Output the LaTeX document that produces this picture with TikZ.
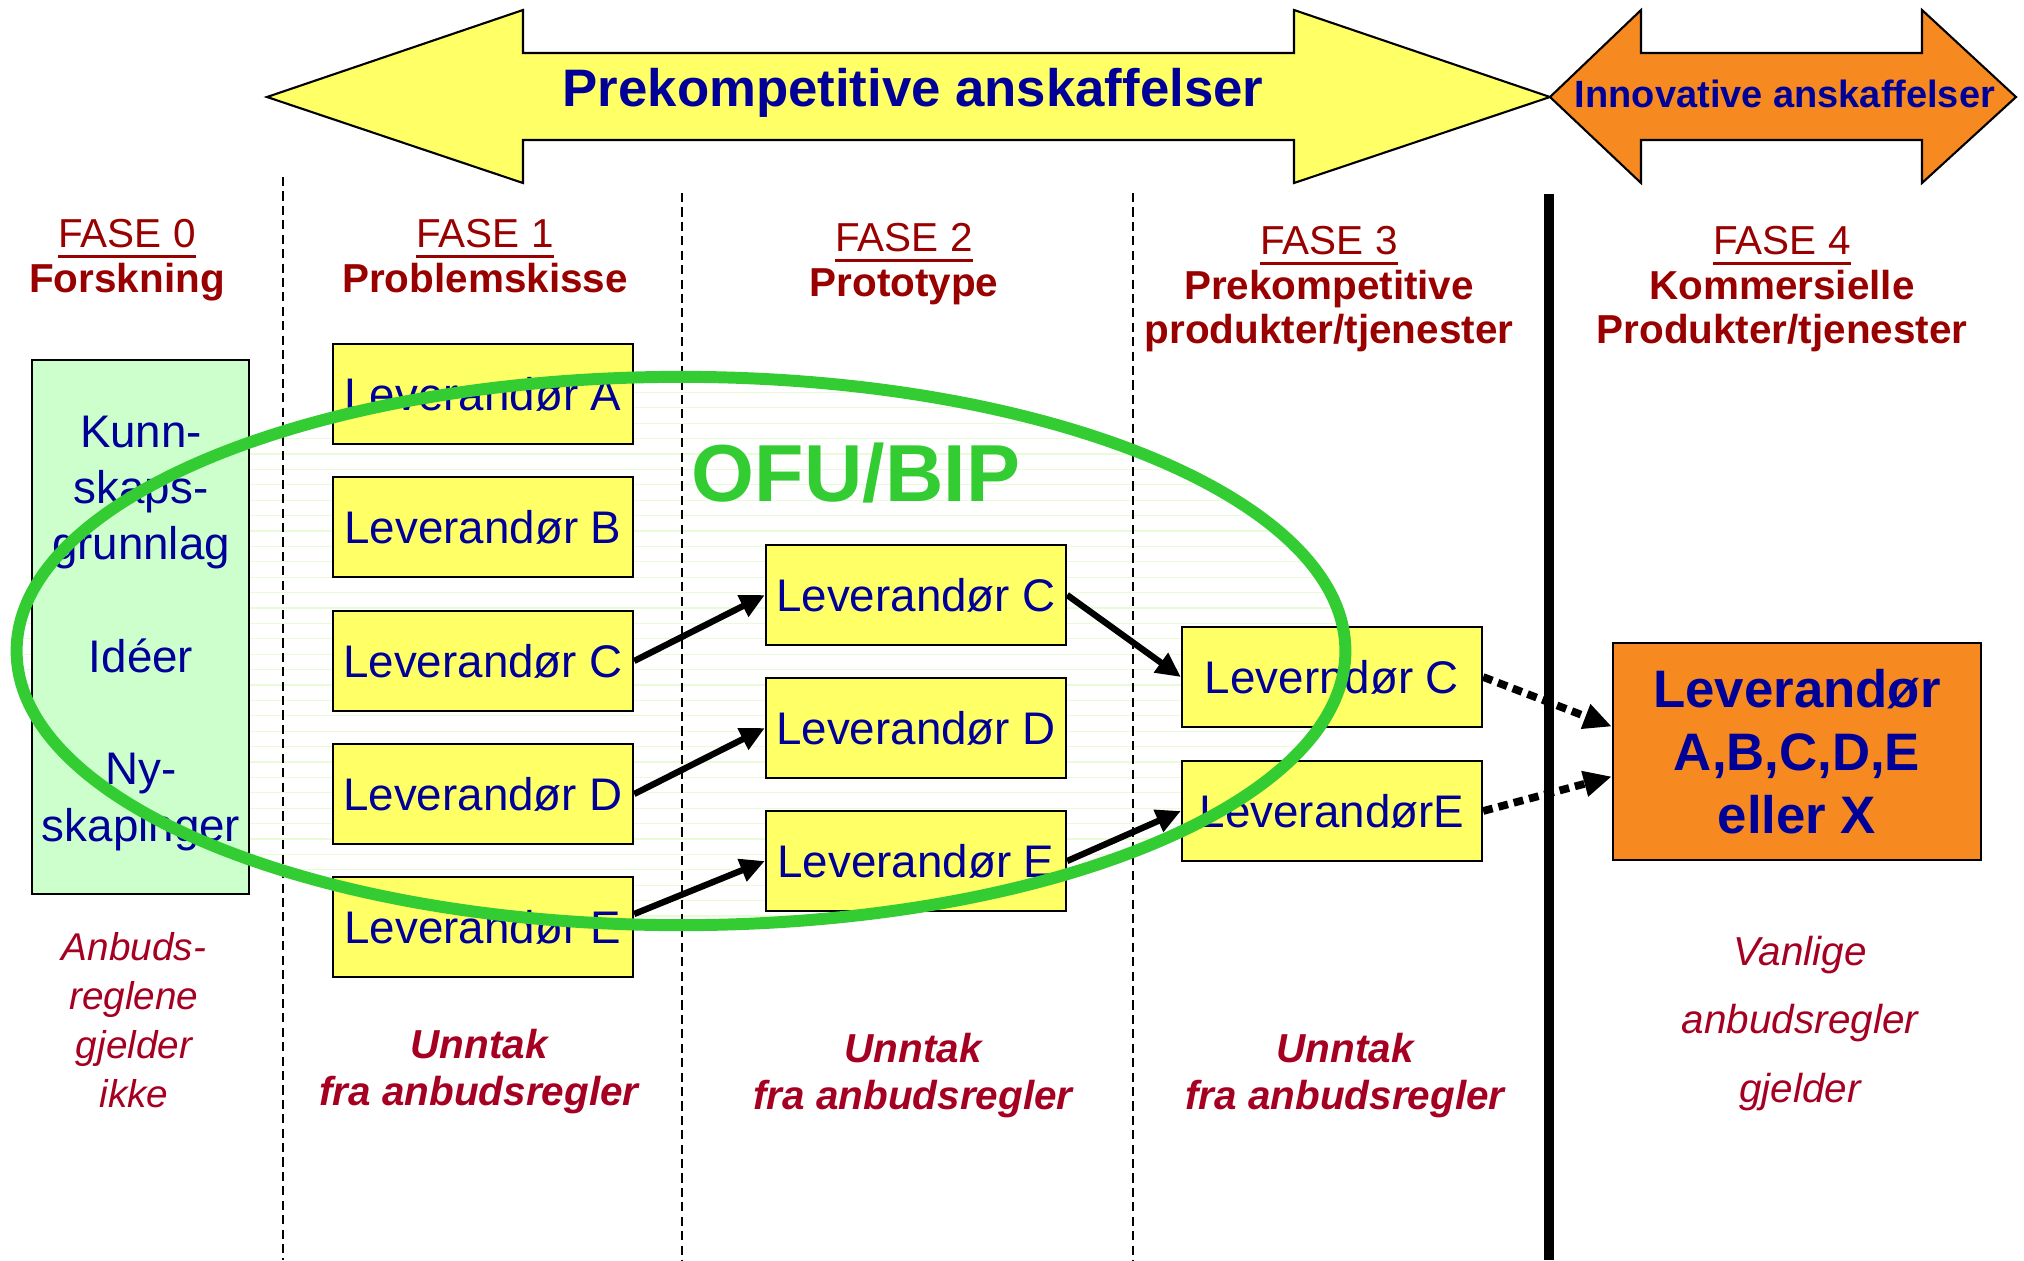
\documentclass[tikz,border=0pt]{standalone}
\usepackage{fontspec}
\setmainfont{Liberation Sans}
\usetikzlibrary{arrows.meta,calc}

\definecolor{levblue}{RGB}{0,0,153}
\definecolor{fasered}{RGB}{153,0,0}
\definecolor{regelred}{RGB}{165,0,33}
\definecolor{levyellow}{RGB}{255,255,102}
\definecolor{komorange}{RGB}{246,138,32}
\definecolor{forskgreen}{RGB}{204,255,204}
\definecolor{ofugreen}{RGB}{51,204,51}
\definecolor{ofufaint}{RGB}{234,251,216}

\newcommand{\faseline}[1]{\setbox0\hbox{#1}\rlap{\rule[-2.75pt]{\wd0}{0.75pt}}\box0}

\begin{document}
\begin{tikzpicture}[x=0.01cm, y=-0.01cm,
		lev/.style={draw, line width=0.6pt, fill=levyellow, minimum width=3cm, minimum height=1cm, inner sep=0pt, text=levblue, font=\fontsize{13}{15}\selectfont},
		fase/.style={anchor=north, inner sep=0pt, align=center, text=fasered, font=\fontsize{11.5}{12.6}\selectfont},
		unntak/.style={anchor=north, inner sep=0pt, align=center, text=regelred, font=\fontsize{11.5}{13.6}\selectfont\bfseries\itshape},
		skille/.style={line width=0.6pt, dash pattern=on 2.6pt off 1.5pt},
		pil/.style={line width=1.8pt, -{Triangle[length=7pt, width=6.5pt]}},
		prikk/.style={line width=2.2pt, dash pattern=on 2.8pt off 1.7pt, -{Triangle[length=8pt, width=7pt]}}]
	\useasboundingbox (0,0) rectangle (2024,1260);
	\draw[line width=0.6pt, fill=levyellow] (267,97) -- (523,10) -- (523,53) -- (1294,53) -- (1294,10) -- (1550,97) -- (1294,183) -- (1294,140) -- (523,140) -- (523,183) -- cycle;
	\draw[line width=0.6pt, fill=komorange] (1550,97) -- (1641,10) -- (1641,53) -- (1922,53) -- (1922,10) -- (2016,97) -- (1922,183) -- (1922,140) -- (1641,140) -- (1641,183) -- cycle;
	\node[anchor=base, inner sep=0pt, text=levblue, font=\fontsize{15}{18}\selectfont\bfseries] (prekomp) at (913,106) {Prekompetitive anskaffelser};
	\node[anchor=base, inner sep=0pt, text=levblue, font=\fontsize{10.8}{13}\selectfont\bfseries] (innov) at (1785,107) {Innovative anskaffelser};
	\begin{scope}
		\clip (681,651) ellipse [x radius=6.64cm, y radius=2.74cm];
		\foreach \k in {0,...,35}
			\draw[ofufaint, line width=0.35pt] (0,{377+15.4*\k}) -- (2024,{377+15.4*\k});
	\end{scope}
	\draw[skille] (283,177) -- (283,1260);
	\draw[skille] (682,193) -- (682,1260);
	\draw[skille] (1133,193) -- (1133,1260);
	\draw[line width=2.6pt] (1549,194) -- (1549,1260);
	\node[fase] (fase0) at (127,219) {\faseline{FASE 0}\\\textbf{Forskning}};
	\node[fase] (fase1) at (485,219) {\faseline{FASE 1}\\\textbf{Problemskisse}};
	\node[fase] (fase2) at (904,223) {\faseline{FASE 2}\\\textbf{Prototype}};
	\node[fase] (fase3) at (1329,226) {\faseline{FASE 3}\\\textbf{Prekompetitive}\\\textbf{produkter/tjenester}};
	\node[fase] (fase4) at (1782,226) {\faseline{FASE 4}\\\textbf{Kommersielle}\\\textbf{Produkter/tjenester}};
	\node[draw, line width=0.6pt, fill=forskgreen, minimum width=2.17cm, minimum height=5.34cm, inner sep=0pt] (forsk) at (140.5,627) {};
	\node[anchor=north, inner sep=0pt, align=center, text=levblue, font=\fontsize{13}{16}\selectfont] (forsktekst) at (141,415) {Kunn-\\skaps-\\grunnlag\\[16pt]Idéer\\[16pt]Ny-\\skapinger};
	\node[lev] (levA) at (483,394) {Leverandør A};
	\node[lev] (levB) at (483,527) {Leverandør B};
	\node[lev] (levC) at (483,661) {Leverandør C};
	\node[lev] (levD) at (483,794) {Leverandør D};
	\node[lev] (levE) at (483,927) {Leverandør E};
	\node[lev] (protC) at (916,595) {Leverandør C};
	\node[lev] (protD) at (916,728) {Leverandør D};
	\node[lev] (protE) at (916,861) {Leverandør E};
	\node[lev] (preC) at (1332,677) {Leverndør C};
	\node[lev] (preE) at (1332,811) {LeverandørE};
	\node[draw, line width=0.6pt, fill=komorange, minimum width=3.68cm, minimum height=2.17cm, inner sep=0pt, align=center, text=levblue, font=\fontsize{15}{17.9}\selectfont\bfseries] (kom) at (1797,751.5) {Leverandør\\A,B,C,D,E\\eller X};
	\draw[ofugreen, line width=3.4pt] (681,651) ellipse [x radius=6.64cm, y radius=2.74cm];
	\node[anchor=base, inner sep=0pt, text=ofugreen, font=\fontsize{23}{27}\selectfont\bfseries] (ofu) at (856,501) {OFU/BIP};
	\draw[pil] (levC.east) -- (protC.west);
	\draw[pil] (levD.east) -- (protD.west);
	\draw[pil] ($(levE.east)+(0,-13)$) -- (protE.west);
	\draw[pil] (protC.east) -- (preC.west);
	\draw[pil] (protE.east) -- (preE.west);
	\draw[prikk] (preC.east) -- ($(kom.west)+(0,-25)$);
	\draw[prikk] (preE.east) -- ($(kom.west)+(0,25)$);
	\node[anchor=north, inner sep=0pt, align=center, text=regelred, font=\fontsize{11}{13.9}\selectfont\itshape] (regel0) at (134,932) {Anbuds-\\reglene\\gjelder\\ikke};
	\node[unntak] (regel1) at (479,1028) {Unntak\\fra anbudsregler};
	\node[unntak] (regel2) at (913,1032) {Unntak\\fra anbudsregler};
	\node[unntak] (regel3) at (1345,1032) {Unntak\\fra anbudsregler};
	\node[anchor=north, inner sep=0pt, align=center, text=regelred, font=\fontsize{11.5}{19.6}\selectfont\itshape] (regel4) at (1800,935) {Vanlige\\anbudsregler\\gjelder};
\end{tikzpicture}
\end{document}
